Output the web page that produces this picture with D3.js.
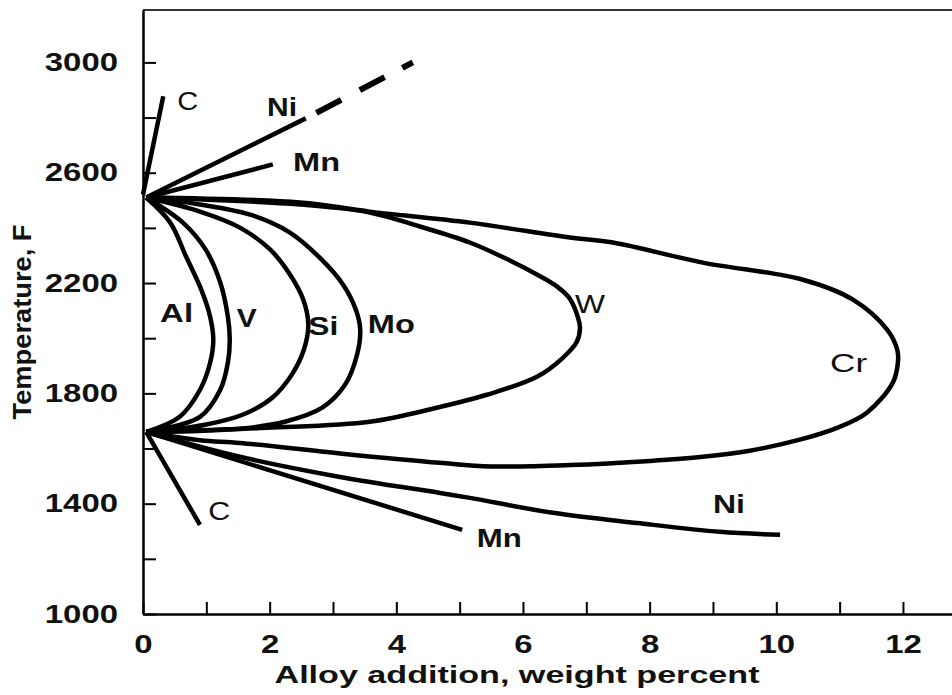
<!DOCTYPE html>
<html>
<head>
<meta charset="utf-8">
<script src="https://cdn.jsdelivr.net/npm/d3@7"></script>
<style>
  body { margin: 0; background: #fff; }
  text { font-family: "Liberation Sans", Arial, sans-serif; fill: #111; }
</style>
</head>
<body>
<svg id="chart" width="952" height="695"></svg>
<script>
// [wt% alloy, temperature F]
const alLoop = [[0.05,2510],[0.43,2419],[0.68,2296],[0.92,2176],[1.06,2078],[1.11,1995],[1.06,1911],[0.90,1813],[0.58,1715],[0.05,1660]];
const vLoop = [[0.05,2510],[0.63,2419],[0.99,2321],[1.22,2202],[1.34,2078],[1.37,1995],[1.34,1911],[1.22,1813],[0.90,1715],[0.05,1660]];
const siLoop = [[0.05,2510],[0.90,2459],[1.53,2401],[2.01,2321],[2.32,2231],[2.53,2140],[2.61,2049],[2.54,1958],[2.35,1868],[2.04,1784],[1.61,1726],[0.98,1686],[0.05,1660]];
const moLoop = [[0.05,2510],[0.90,2485],[1.69,2448],[2.32,2383],[2.79,2292],[3.16,2194],[3.36,2104],[3.43,2031],[3.38,1940],[3.19,1831],[2.83,1748],[2.24,1697],[1.53,1672],[0.05,1660]];
const wLoop = [[0.05,2510],[2.48,2485],[3.58,2456],[4.37,2405],[5.16,2347],[5.80,2281],[6.22,2231],[6.54,2187],[6.74,2143],[6.87,2074],[6.90,2038],[6.85,1987],[6.63,1929],[6.22,1860],[5.43,1795],[4.64,1748],[3.58,1697],[1.96,1675],[0.38,1662],[0.05,1660]];
const crLoop = [[0.05,2510],[2.48,2492],[3.58,2459],[5.16,2419],[6.74,2365],[7.42,2347],[8.84,2274],[10.42,2212],[11.21,2140],[11.75,2031],[11.91,1958],[11.92,1911],[11.84,1839],[11.43,1730],[10.96,1675],[10.37,1632],[9.58,1592],[8.84,1570],[8.01,1555],[6.74,1540],[5.50,1535],[4.69,1548],[3.11,1582],[1.53,1620],[0.90,1630],[0.05,1660]];

const cUpper = [[0,2521],[0.32,2877]];
const niUpper = [[0.05,2510],[2.57,2797]];
const niUpperDashed = [[2.57,2797],[4.26,3000]];
const mnUpper = [[0.05,2510],[2.05,2630]];
const cLower = [[0.05,1660],[0.90,1323]];
const mnLower = [[0.05,1660],[5.04,1305]];
const niLower = [[0.05,1660],[1.53,1570],[3.11,1497],[4.69,1439],[5.16,1421],[6.47,1367],[7.80,1330],[9.11,1298],[10.06,1287]];

const tempTicks = [1000,1200,1400,1600,1800,2000,2200,2400,2600,2800,3000];
const tempLabels = [1000,1400,1800,2200,2600,3000];
const wtTicks = [0,1,2,3,4,5,6,7,8,9,10,11,12];
const wtLabels = [0,2,4,6,8,10,12];

// element labels: name, wt%, temperature (left edge / baseline)
const elemNames = ["C","Ni","Mn","Al","V","Si","Mo","W","Cr","C","Mn","Ni"];
const elemSpots = [[0.54,2826],[1.96,2804],[2.37,2608],[0.27,2060],[1.48,2042],[2.61,2013],[3.55,2020],[6.82,2093],[10.85,1878],[1.03,1341],[5.27,1243],[9.0,1367]];

const svg = d3.select('#chart'),
  width = +svg.attr('width'),
  height = +svg.attr('height');

const mLeft = 143, mBottom = 614, mTop = 10;

const x = d3.scaleLinear().domain([0, (width - mLeft) / 63.33]).range([mLeft, width]);
const y = d3.scaleLinear().domain([1000, 3190]).range([mBottom, mTop]);

const digitW = 18.3;

// frame top line
svg.append('line')
  .attr('x1', mLeft).attr('x2', width)
  .attr('y1', y(3190)).attr('y2', y(3190))
  .attr('stroke', '#333').attr('stroke-width', 2);

const yAxis = svg.append('g')
  .attr('transform', `translate(${mLeft},0)`)
  .call(d3.axisLeft(y)
    .tickValues(tempTicks)
    .tickSize(-13)
    .tickSizeOuter(0)
    .tickPadding(25)
    .tickFormat(d => tempLabels.includes(d) ? d : ''));

const xAxis = svg.append('g')
  .attr('transform', `translate(0,${mBottom})`)
  .call(d3.axisBottom(x)
    .tickValues(wtTicks)
    .tickSize(-12)
    .tickSizeOuter(0)
    .tickPadding(21)
    .tickFormat(d => wtLabels.includes(d) ? d : ''));

[yAxis, xAxis].forEach(g => {
  g.select('.domain').attr('stroke', '#000').attr('stroke-width', 2.5);
  g.selectAll('.tick line').attr('stroke', '#000').attr('stroke-width', 2);
  g.selectAll('.tick text')
    .attr('font-size', 25)
    .attr('font-weight', 'bold')
    .attr('fill', '#111')
    .style('font-family', '"Liberation Sans", Arial, sans-serif')
    .each(function() {
      const t = d3.select(this).text();
      if (t) d3.select(this).attr('textLength', t.length * digitW).attr('lengthAdjust', 'spacingAndGlyphs');
    });
});

// axis titles
svg.append('text')
  .attr('transform', `translate(31,322) rotate(-90)`)
  .attr('text-anchor', 'middle')
  .attr('font-size', 25)
  .attr('font-weight', 'bold')
  .attr('textLength', 195)
  .attr('lengthAdjust', 'spacingAndGlyphs')
  .text('Temperature, F');

svg.append('text')
  .attr('x', 517).attr('y', 683)
  .attr('text-anchor', 'middle')
  .attr('font-size', 24)
  .attr('font-weight', 'bold')
  .attr('textLength', 485)
  .attr('lengthAdjust', 'spacingAndGlyphs')
  .text('Alloy addition, weight percent');

// curves
const line = d3.line()
  .x(d => x(d[0]))
  .y(d => y(d[1]))
  .curve(d3.curveCatmullRom.alpha(0.5));

const curves = [alLoop, vLoop, siLoop, moLoop, wLoop, crLoop,
  cUpper, niUpper, mnUpper, cLower, mnLower, niLower];

svg.append('g')
  .selectAll('path')
  .data(curves)
  .enter()
  .append('path')
  .attr('d', line)
  .attr('fill', 'none')
  .attr('stroke', '#000')
  .attr('stroke-width', 4.5)
  .attr('stroke-linejoin', 'round');

svg.append('path')
  .datum(niUpperDashed)
  .attr('d', line)
  .attr('fill', 'none')
  .attr('stroke', '#000')
  .attr('stroke-width', 6)
  .attr('stroke-dasharray', '0 12 28 21 28 20 14');

// element labels
const labelW = [21, 30, 47, 33, 20, 30, 47, 30, 37, 22, 45, 32];
const boldNames = [false, true, true, true, true, true, true, false, false, false, true, true];

svg.append('g')
  .selectAll('text')
  .data(elemNames)
  .enter()
  .append('text')
  .attr('x', (d, i) => x(elemSpots[i][0]))
  .attr('y', (d, i) => y(elemSpots[i][1]))
  .attr('font-size', 25)
  .attr('font-weight', (d, i) => boldNames[i] ? 'bold' : 'normal')
  .attr('textLength', (d, i) => labelW[i])
  .attr('lengthAdjust', 'spacingAndGlyphs')
  .text(d => d);
</script>
</body>
</html>
